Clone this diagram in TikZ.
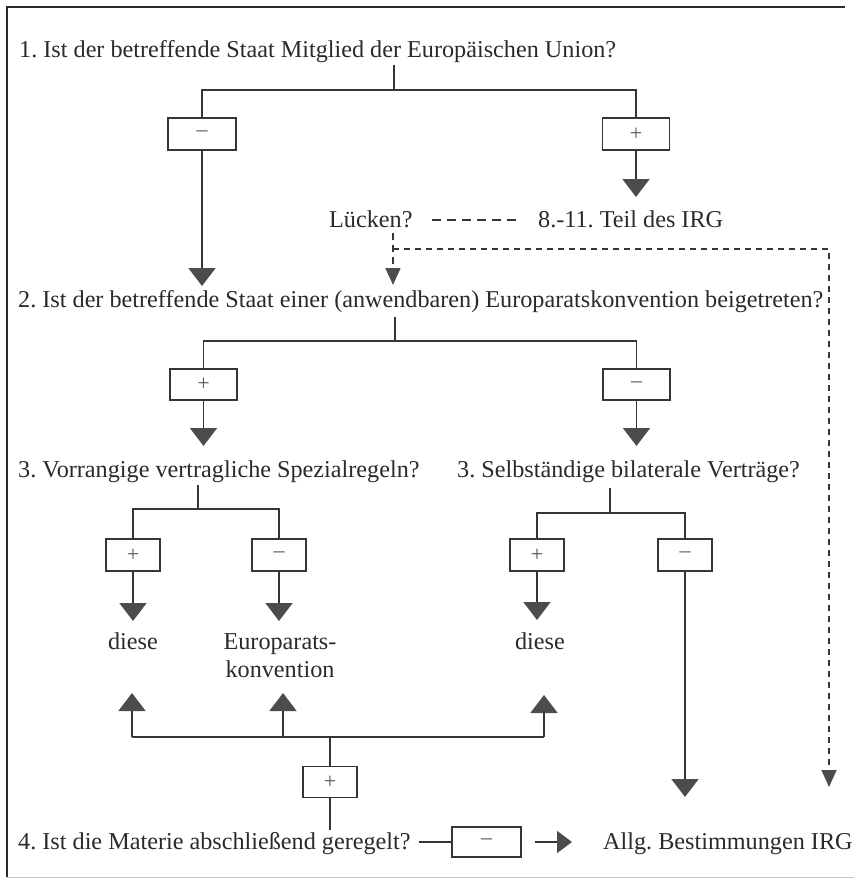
\documentclass[tikz,border=0pt]{standalone}
\usepackage{fontspec}
\setmainfont{Liberation Serif}
\usetikzlibrary{arrows.meta}
\definecolor{ink}{HTML}{2A2A2A}
\definecolor{linec}{HTML}{353535}
\definecolor{headc}{HTML}{4C4C4C}
\definecolor{signc}{HTML}{555555}
\frenchspacing
\begin{document}
\begin{tikzpicture}[x=1pt,y=-1pt,
  txt/.style={font=\fontsize{24.2}{28}\selectfont, text=ink, inner sep=0pt},
  q/.style={txt, anchor=base west},
  answer/.style={txt, anchor=base},
  signbox/.style={draw=linec, line width=1.5pt, inner sep=0pt,
    font=\fontsize{22}{24}\selectfont, text=signc},
  wide/.style={signbox, minimum width=67pt, minimum height=31pt},
  narrow/.style={signbox, minimum width=54pt, minimum height=32pt},
  ln/.style={draw=linec, line width=1.7pt},
  arr/.style={ln, -{Triangle[width=27pt,length=18pt,color=headc]}},
  harr/.style={ln, -{Triangle[width=22pt,length=15pt,color=headc]}},
  dsh/.style={draw=linec, line width=1.6pt, dash pattern=on 7pt off 5pt},
  darr/.style={dsh, -{Triangle[width=15pt,length=17pt,color=headc]}},
]
\useasboundingbox (0,0) rectangle (854,883);

% frame
\draw[ink, line width=1.8pt] (7,877) -- (7,7) -- (845,7);
\draw[gray!45, line width=1pt] (7,877) -- (854,877);

% ---------- question 1 ----------
\node[q] (q1) at (19,58) {1. Ist der betreffende Staat Mitglied der Europäischen Union?};
\coordinate (s1) at (394,65);
\coordinate (j1) at (394,90);
\node[wide, minimum width=68pt, minimum height=32pt] (b1m) at (202,134) {–};
\node[wide, minimum width=67pt, minimum height=32pt] (b1p) at (636,134) {+};
\coordinate (t1m) at (202,286);
\coordinate (t1p) at (636,197);
\draw[ln] (s1) -- (j1);
\draw[ln] (b1m.north) |- (j1) -| (b1p.north);
\draw[arr] (b1m.south) -- (t1m);
\draw[arr] (b1p.south) -- (t1p);

% gaps in the EU law
\node[q] (luecken) at (329,227) {Lücken?};
\node[q] (teil) at (538,227) {8.-11. Teil des IRG};
\coordinate (m1) at (432,220);
\coordinate (m2) at (517,220);
\draw[draw=linec, line width=2pt, dash pattern=on 9pt off 6pt] (m1) -- (m2);
\coordinate (l0) at (393,233);
\coordinate (lc) at (393,249);
\coordinate (lt) at (393,285);
\coordinate (rc) at (829,249);
\coordinate (rt) at (829,787);
\draw[darr] (l0) -- (lt);
\draw[darr, dash pattern=on 6pt off 5pt] (lc) -- (rc) -- (rt);

% ---------- question 2 ----------
\node[q, fill=white] (q2) at (18,307) {2. Ist der betreffende Staat einer (anwendbaren) Europaratskonvention beigetreten?};
\coordinate (s2) at (395,317);
\coordinate (j2) at (395,341);
\node[wide] (b2p) at (203.5,384.5) {+};
\node[wide] (b2m) at (636.5,384.5) {–};
\coordinate (t2p) at (203.5,446);
\coordinate (t2m) at (636.5,446);
\draw[ln] (s2) -- (j2);
\draw[ln] (b2p.north) |- (j2) -| (b2m.north);
\draw[arr] (b2p.south) -- (t2p);
\draw[arr] (b2m.south) -- (t2m);

% ---------- question 3 (left) ----------
\node[q] (q3l) at (18,477) {3. Vorrangige vertragliche Spezialregeln?};
\coordinate (s3l) at (198,485);
\coordinate (j3l) at (198,509);
\node[narrow] (b3lp) at (133,555) {+};
\node[narrow] (b3lm) at (279,555) {–};
\coordinate (t3lp) at (133,621);
\coordinate (t3lm) at (279,621);
\draw[ln] (s3l) -- (j3l);
\draw[ln] (b3lp.north) |- (j3l) -| (b3lm.north);
\draw[arr] (b3lp.south) -- (t3lp);
\draw[arr] (b3lm.south) -- (t3lm);
\node[answer] (diesel) at (133,649) {diese};
\node[txt, anchor=north, align=center] (epk) at (280,633) {Europarats-\\konvention};

% ---------- question 3 (right) ----------
\node[q] (q3r) at (457,477) {3. Selbständige bilaterale Verträge?};
\coordinate (s3r) at (610,488);
\coordinate (j3r) at (610,513);
\node[narrow] (b3rp) at (537,555) {+};
\node[narrow] (b3rm) at (685,555) {–};
\coordinate (t3rp) at (537,620);
\coordinate (t3rm) at (685,797);
\draw[ln] (s3r) -- (j3r);
\draw[ln] (b3rp.north) |- (j3r) -| (b3rm.north);
\draw[arr] (b3rp.south) -- (t3rp);
\draw[arr] (b3rm.south) -- (t3rm);
\node[answer] (dieser) at (540,649) {diese};

% ---------- question 4 ----------
\node[q] (q4) at (18,849) {4. Ist die Materie abschließend geregelt?};
\node[narrow, minimum height=31pt] (b4p) at (330,782) {+};
\coordinate (j4) at (330,737);
\coordinate (s4) at (330,830);
\coordinate (u1) at (132,737);
\coordinate (u2) at (283,737);
\coordinate (u3) at (544,737);
\coordinate (ut1) at (132,693);
\coordinate (ut2) at (283,693);
\coordinate (ut3) at (544,695);
\draw[ln] (u1) -- (u3);
\draw[arr] (u1) -- (ut1);
\draw[arr] (u2) -- (ut2);
\draw[arr] (u3) -- (ut3);
\draw[ln] (j4) -- (b4p.north);
\draw[ln] (b4p.south) -- (s4);

\node[wide, minimum width=69pt, minimum height=30pt] (b4m) at (486.5,842) {–};
\coordinate (q4e) at (419,842);
\coordinate (a4s) at (535,842);
\node[q] (allg) at (603,849) {Allg. Bestimmungen IRG};
\coordinate (a4t) at (572,842);
\draw[ln] (q4e) -- (b4m.west);
\draw[harr] (a4s) -- (a4t);
\end{tikzpicture}
\end{document}
